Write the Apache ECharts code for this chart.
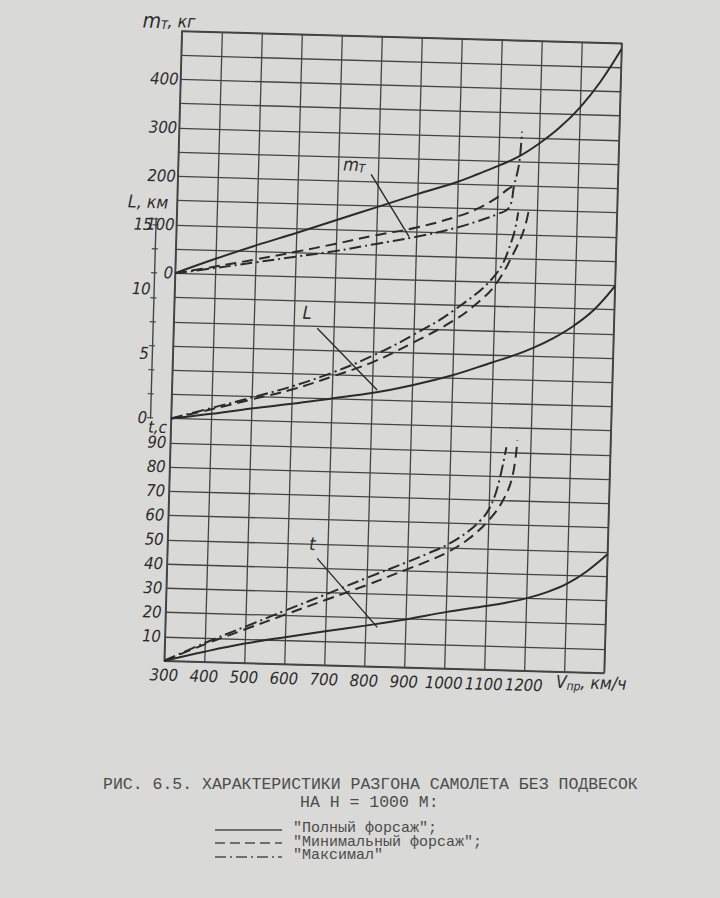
<!DOCTYPE html>
<html>
<head>
<meta charset="utf-8">
<script src="https://cdn.jsdelivr.net/npm/echarts/dist/echarts.min.js"></script>
<style>
  html, body { margin:0; padding:0; width:720px; height:898px; background:#d9d9d7; overflow:hidden; }
  #chart { position:absolute; left:0; top:0; width:720px; height:898px;
           transform: rotate(1.6deg); transform-origin: 393px 352px; }
  .cap { position:absolute; font-family:"Liberation Mono","DejaVu Sans Mono",monospace; color:#4c4c4c; white-space:pre; }
</style>
</head>
<body>
<div id="chart"></div>
<div class="cap" style="left:103px; top:776px; font-size:16.5px; line-height:18px;">РИС. 6.5. ХАРАКТЕРИСТИКИ РАЗГОНА САМОЛЕТА БЕЗ ПОДВЕСОК</div>
<div class="cap" style="left:300px; top:794px; font-size:16.5px; line-height:18px;">НА Н = 1000 М:</div>
<svg style="position:absolute; left:0; top:0;" width="720" height="898">
  <line x1="215" y1="830" x2="282" y2="830" stroke="#4c4c4c" stroke-width="1.5"/>
  <line x1="215" y1="843" x2="282" y2="843" stroke="#4c4c4c" stroke-width="1.5" stroke-dasharray="10,5"/>
  <line x1="215" y1="857" x2="282" y2="857" stroke="#4c4c4c" stroke-width="1.5" stroke-dasharray="11,4,2,4"/>
</svg>
<div class="cap" style="left:293px; top:822px; font-size:15px; line-height:13.5px;">"Полный форсаж";
"Минимальный форсаж";
"Максимал"</div>
<script>
// ---------- DATA ----------
// x axis: speed V, km/h
const xTicks = [300, 400, 500, 600, 700, 800, 900, 1000, 1100, 1200];

// "Полный форсаж" (solid)
const mtFullV = [300, 400, 500, 600, 700, 800, 900, 1000, 1050, 1100, 1150, 1200, 1250, 1300, 1350, 1400];
const mtFull  = [0, 32, 62, 90, 119, 148, 177, 205, 222, 240, 260, 288, 322, 365, 420, 488];
const lFullV  = [300, 400, 500, 600, 700, 800, 900, 1000, 1100, 1150, 1200, 1250, 1300, 1350, 1400];
const lFull   = [0, 0.45, 0.95, 1.4, 1.9, 2.4, 3.1, 3.95, 5.05, 5.6, 6.25, 7.05, 8.05, 9.35, 11.2];
const tFullV  = [300, 400, 500, 600, 700, 800, 900, 1000, 1100, 1150, 1200, 1250, 1300, 1350, 1400];
const tFull   = [0, 4.2, 8, 11.1, 14, 16.8, 19.8, 23.3, 26.3, 27.9, 29.9, 32.6, 36.3, 41.8, 49];

// "Минимальный форсаж" (dashed)
const mtMinV = [300, 400, 500, 600, 700, 800, 900, 1000, 1050, 1100, 1125, 1140];
const mtMin  = [0, 16, 33, 51, 70, 90, 108, 133, 150, 175, 192, 200];
const lMinV  = [300, 400, 500, 600, 700, 800, 900, 1000, 1050, 1100, 1150, 1170, 1180];
const lMin   = [0, 0.8, 1.65, 2.5, 3.6, 4.8, 6.4, 8.2, 9.4, 11.0, 13.9, 15.5, 17.0];
const tMinV  = [300, 400, 500, 600, 700, 800, 900, 950, 1000, 1050, 1100, 1135, 1157, 1167];
const tMin   = [0, 7.2, 13.9, 20.5, 27, 33.5, 40.5, 44, 48, 53.5, 61.5, 70, 80, 95];

// "Максимал" (dash-dot)
const mtMaxV = [300, 400, 500, 600, 700, 800, 900, 1000, 1050, 1100, 1130, 1141, 1152, 1157];
const mtMax  = [0, 13, 27, 41, 55, 72, 89, 110, 124, 140, 155, 200, 246, 312];
const lMaxV  = [300, 400, 500, 600, 700, 800, 900, 1000, 1100, 1140, 1153];
const lMax   = [0, 0.9, 1.8, 2.75, 3.9, 5.3, 7.0, 9.0, 11.8, 14.6, 16.7];
const tMaxV  = [300, 400, 500, 600, 700, 800, 900, 950, 1000, 1050, 1080, 1100, 1120, 1140];
const tMax   = [0, 7.8, 15, 22.2, 29.3, 36.5, 43.5, 47.2, 51.2, 56.8, 61.5, 66, 75, 92];

// axis tick labels
const tTicks  = [10, 20, 30, 40, 50, 60, 70, 80, 90];
const mtTicks = [0, 100, 200, 300, 400];
const lTicks  = [0, 5, 10, 15];

// curve annotations (data units of each panel)
const mtNote = [740, 235], mtLeader = [[783, 215], [882, 89]];
const lNote  = [633, 8.5], lLeader  = [[659, 7.3], [813, 2.65]];
const tNote  = [662, 50],  tLeader  = [[675, 44],  [830, 16.2]];

// ---------- CHART ----------
const INK = '#2b2b2b';
const GRIDC = '#444444';
const FONT = '"DejaVu Sans Condensed","DejaVu Sans",sans-serif';
const lbl = { fontFamily: FONT, fontStyle: 'italic', fontSize: 16.5, color: INK };

function pairs(xs, ys) { return xs.map((x, i) => [x, ys[i]]); }

const solid   = { color: INK, width: 2, type: 'solid' };
const dashed  = { color: INK, width: 2, type: [11, 6] };
const dashdot = { color: INK, width: 2, type: [12, 4, 2, 4] };

function curve(name, xs, ys, yAxisIndex, style, extra) {
  return Object.assign({
    name, type: 'line', xAxisIndex: 0, yAxisIndex,
    data: pairs(xs, ys), showSymbol: false, symbol: 'none',
    smooth: 0.4, clip: false,
    lineStyle: style, itemStyle: { color: INK }, silent: true, z: 5
  }, extra || {});
}

function note(textRich, at, leader) {
  return {
    markLine: {
      silent: true, symbol: ['none', 'none'],
      lineStyle: { color: INK, width: 1.4, type: 'solid' },
      label: { show: false },
      data: [[{ coord: leader[0] }, { coord: leader[1] }]]
    },
    markPoint: {
      silent: true, symbol: 'circle', symbolSize: 0,
      data: [{ coord: at, label: { show: true, position: 'inside', formatter: textRich,
        rich: {
          a: { fontFamily: FONT, fontStyle: 'italic', fontSize: 18, color: INK },
          s: { fontFamily: FONT, fontStyle: 'italic', fontSize: 12, color: INK, verticalAlign: 'bottom', padding: [8, 0, 0, 0] }
        } } }]
    }
  };
}

const richName = {
  a: { fontFamily: FONT, fontStyle: 'italic', fontSize: 17.5, color: INK },
  m: { fontFamily: FONT, fontStyle: 'italic', fontSize: 21, color: INK },
  s: { fontFamily: FONT, fontStyle: 'italic', fontSize: 12, color: INK, padding: [8, 0, 0, 0] }
};

const option = {
  animation: false,
  backgroundColor: 'transparent',
  grid: [
    { left: 173, right: 107, top: 37, bottom: 231, show: true, borderColor: GRIDC, borderWidth: 1.6, backgroundColor: 'transparent' },
    { left: 173, right: 107, top: 224.8, bottom: 473.3, show: false }
  ],
  xAxis: [
    { type: 'value', gridIndex: 0, min: 300, max: 1400, interval: 100,
      axisLine: { show: false }, axisTick: { show: false },
      splitLine: { show: true, lineStyle: { color: GRIDC, width: 1.3 } },
      axisLabel: Object.assign({ margin: 6, formatter: v => xTicks.includes(v) ? String(v) : '' }, lbl),
      name: '{a|V}{s|пр}{a|, км/ч}', nameLocation: 'end', nameGap: -48,
      nameTextStyle: { align: 'left', verticalAlign: 'middle', padding: [20, 0, 0, 0], rich: richName } },
    { type: 'value', gridIndex: 1, min: 300, max: 1400, show: false }
  ],
  yAxis: [
    // t, s
    { type: 'value', gridIndex: 0, position: 'left', min: 0, max: 260, interval: 10,
      axisLine: { show: false }, axisTick: { show: false },
      splitLine: { show: true, lineStyle: { color: GRIDC, width: 1.3 } },
      axisLabel: Object.assign({ margin: 4,
        formatter: v => tTicks.includes(v) ? String(v) : (v === 100 ? '{tc|t,c}' : ''),
        rich: { tc: { fontFamily: FONT, fontStyle: 'italic', fontSize: 16.5, color: INK, padding: [18, 0, 0, 0] } } }, lbl) },
    // mT, kg
    { type: 'value', gridIndex: 0, position: 'left', offset: 0, min: -800, max: 500, interval: 100,
      axisLine: { show: false }, axisTick: { show: false }, splitLine: { show: false },
      axisLabel: Object.assign({ margin: 2, formatter: v => mtTicks.includes(v) ? String(v) : '' }, lbl),
      name: '{m|m}{s|T}{a|, кг}', nameLocation: 'end', nameGap: -1,
      nameTextStyle: { align: 'center', padding: [0, 26, 0, 0], rich: richName } },
    // L, km (hidden scale for curves)
    { type: 'value', gridIndex: 0, position: 'right', min: -18.75, max: 30, show: false },
    // L axis (visible), labels
    { type: 'value', gridIndex: 1, position: 'left', offset: 21, min: 0, max: 15.5, interval: 5,
      axisLine: { show: true, lineStyle: { color: GRIDC, width: 1.4 } }, axisTick: { show: false }, splitLine: { show: false },
      axisLabel: Object.assign({ margin: 3, formatter: v => lTicks.includes(v) ? String(v) : '' }, lbl),
      name: '{a|L}{a|, км}', nameLocation: 'end', nameGap: 7,
      nameTextStyle: { align: 'center', padding: [0, 16, 0, 0], rich: richName } },
    // L axis ticks (one per grid row)
    { type: 'value', gridIndex: 1, position: 'left', offset: 21, min: 0, max: 15.5, interval: 1.875,
      axisLine: { show: false }, axisTick: { show: true, length: 3, lineStyle: { color: GRIDC, width: 1.2 } },
      axisLabel: { show: false }, splitLine: { show: false } },
    { type: 'value', gridIndex: 1, position: 'left', offset: 21, min: 0, max: 15.5, interval: 1.875,
      axisLine: { show: false }, axisTick: { show: true, inside: true, length: 3, lineStyle: { color: GRIDC, width: 1.2 } },
      axisLabel: { show: false }, splitLine: { show: false } }
  ],
  series: [
    curve('"Полный форсаж"', mtFullV, mtFull, 1, solid, note('{a|m}{s|T}', mtNote, mtLeader)),
    curve('"Минимальный форсаж"', mtMinV, mtMin, 1, dashed),
    curve('"Максимал"', mtMaxV, mtMax, 1, dashdot),
    curve('"Полный форсаж"', lFullV, lFull, 2, solid, note('{a|L}', lNote, lLeader)),
    curve('"Минимальный форсаж"', lMinV, lMin, 2, dashed),
    curve('"Максимал"', lMaxV, lMax, 2, dashdot),
    curve('"Полный форсаж"', tFullV, tFull, 0, solid, note('{a|t}', tNote, tLeader)),
    curve('"Минимальный форсаж"', tMinV, tMin, 0, dashed),
    curve('"Максимал"', tMaxV, tMax, 0, dashdot)
  ]
};

const chart = echarts.init(document.getElementById('chart'), null, { renderer: 'svg', width: 720, height: 898 });
chart.setOption(option);
</script>
</body>
</html>
